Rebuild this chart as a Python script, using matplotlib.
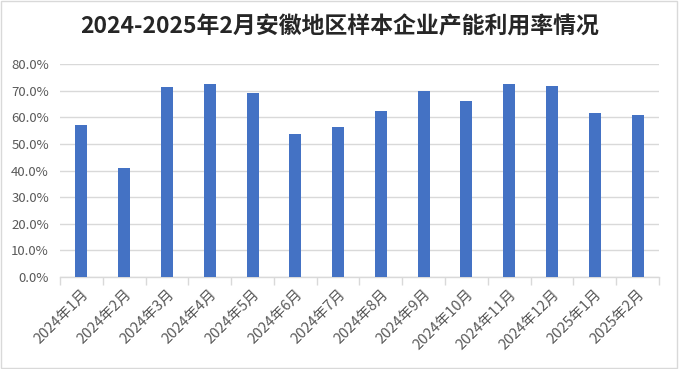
import matplotlib.pyplot as plt
import numpy as np
from matplotlib.ticker import PercentFormatter, FixedLocator

plt.rcParams["font.family"] = ["Noto Sans CJK SC", "DejaVu Sans"]

TITLE = "2024-2025年2月安徽地区样本企业产能利用率情况"
MONTHS = ["2024年1月", "2024年2月", "2024年3月", "2024年4月", "2024年5月",
          "2024年6月", "2024年7月", "2024年8月", "2024年9月", "2024年10月",
          "2024年11月", "2024年12月", "2025年1月", "2025年2月"]
RATE = [57.2, 41.0, 71.5, 72.6, 69.2, 53.8, 56.4, 62.4, 70.0, 66.2,
        72.6, 71.8, 61.7, 60.9]

BLUE = "#4472c4"
GRID = "#d9d9d9"
TXT = "#595959"

fig = plt.figure(figsize=(6.79, 3.69), dpi=100)
ax = fig.add_axes([0.0884, 0.2493, 0.882, 0.5764])

x = np.arange(len(MONTHS))
ax.bar(x, RATE, width=0.28, color=BLUE, zorder=3)

ax.set_xlim(-0.5, len(MONTHS) - 0.5)
ax.set_ylim(0, 80)
ax.set_yticks(np.arange(0, 81, 10))
ax.yaxis.set_major_formatter(PercentFormatter(decimals=1))
ax.grid(axis="y", color=GRID, linewidth=1, zorder=0)
ax.set_axisbelow(True)

for s in ["top", "right", "left"]:
    ax.spines[s].set_visible(False)
ax.spines["bottom"].set_color(GRID)
ax.spines["bottom"].set_linewidth(1)

ax.set_xticks(x)
ax.set_xticklabels(MONTHS, rotation=45, ha="right", rotation_mode="anchor",
                   fontsize=10.5, color=TXT)
ax.tick_params(axis="x", length=0, pad=7)
ax.xaxis.set_minor_locator(FixedLocator(np.arange(-0.5, len(MONTHS), 1)))
ax.tick_params(axis="x", which="minor", length=6, color=GRID, width=1)
ax.tick_params(axis="y", length=0, labelsize=9.5, labelcolor=TXT, pad=8)

fig.text(0.5, 0.927, TITLE, ha="center", va="center", fontsize=16.5,
         fontweight="bold", color="#262626")

fig.patches.append(plt.Rectangle((0.002, 0.003), 0.995, 0.994,
                                 transform=fig.transFigure, fill=False,
                                 edgecolor="#d9d9d9", linewidth=1))

fig.savefig("out.png", dpi=100)
